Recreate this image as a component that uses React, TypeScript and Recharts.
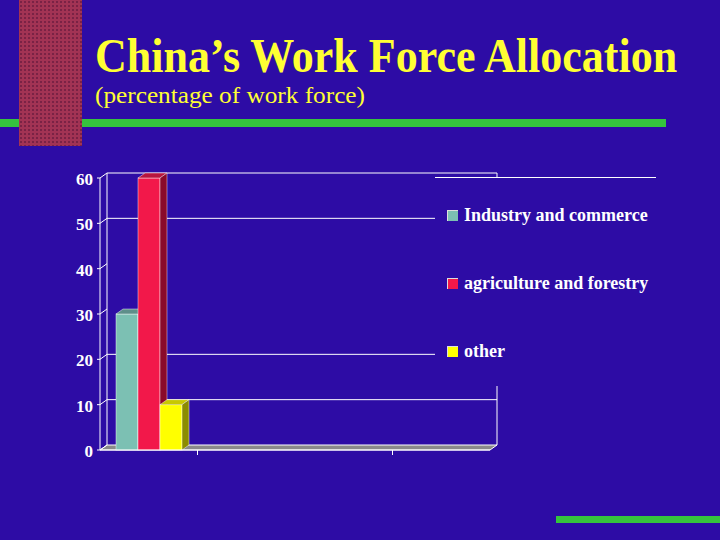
import { BarChart, Bar, XAxis, YAxis, CartesianGrid, Legend } from "recharts";

// one real category, three empty slots so the group sits at the left like the slide
const categories = ["China", "", "", ""];
const industryValues = [30, null, null, null];
const agricultureValues = [60, null, null, null];
const otherValues = [10, null, null, null];

const seriesNames = ["Industry and commerce", "agriculture and forestry", "other"];
const yTicks = [0, 10, 20, 30, 40, 50, 60];
const gridValues = [10, 20, 50, 60];

const BG = "#2D0CA5";
const FONT = '"Liberation Serif", "Times New Roman", serif';
const DX = 7;
const DY = 5;

const colors = [
  { front: "#7CC0B3", top: "#5E8F8A", side: "#4E7A74" },
  { front: "#F2184A", top: "#B8153E", side: "#8A0A2A" },
  { front: "#FFFF00", top: "#C8C800", side: "#8C8C00" },
];

const data = categories.map((c, i) => ({
  name: c,
  industry: industryValues[i],
  agriculture: agricultureValues[i],
  other: otherValues[i],
}));

function makeBar3D(idx: number) {
  return (props: any) => {
    const { x, y, width, height, value } = props;
    if (value == null || !height) return <g />;
    const c = colors[idx];
    const edge = "rgba(255,255,255,0.55)";
    return (
      <g>
        <rect x={x} y={y} width={width} height={height} fill={c.front} stroke={edge} strokeWidth={0.8} />
        <polygon
          points={`${x},${y} ${x + DX},${y - DY} ${x + width + DX},${y - DY} ${x + width},${y}`}
          fill={c.top}
          stroke={edge}
          strokeWidth={0.8}
        />
        <polygon
          points={`${x + width},${y} ${x + width + DX},${y - DY} ${x + width + DX},${y + height - DY} ${x + width},${y + height}`}
          fill={c.side}
          stroke={edge}
          strokeWidth={0.8}
        />
      </g>
    );
  };
}

const YTick = (props: any) => {
  const { x, y, payload } = props;
  return (
    <g>
      <line x1={x - 3} y1={y} x2={x} y2={y} stroke="#fff" />
      <line x1={x} y1={y} x2={x + DX} y2={y - DY} stroke="#fff" />
      <text x={x - 7} y={y + 7} textAnchor="end" fill="#fff" fontSize={17} fontWeight="bold" fontFamily={FONT}>
        {payload.value}
      </text>
    </g>
  );
};

const XTick = (props: any) => {
  const { x, y, payload, index } = props;
  if (index !== 0 && index !== 2) return <g />;
  const cx = x + (payload.offset || 48.75);
  return <line x1={cx} y1={y - 5} x2={cx} y2={y} stroke="#fff" />;
};

const gridLine = (p: any) => (
  <line key={p.key} x1={p.x1 + DX} y1={p.y1 - DY} x2={p.x2 + DX} y2={p.y2 - DY} stroke="#fff" strokeWidth={1} />
);

const LegendBox = (props: any) => {
  const { payload = [] } = props;
  return (
    <div style={{ width: 221, height: 208, background: BG, borderTop: "1px solid #fff", position: "relative" }}>
      {payload.map((entry: any, i: number) => (
        <div
          key={i}
          style={{
            position: "absolute",
            left: 12,
            top: 27 + i * 68,
            display: "flex",
            alignItems: "center",
            whiteSpace: "nowrap",
          }}
        >
          <div
            style={{
              width: 10,
              height: 10,
              background: entry.color,
              borderTop: "1px solid #ddd",
              borderLeft: "1px solid #ddd",
              marginRight: 6,
            }}
          />
          <span style={{ color: "#fff", fontFamily: FONT, fontWeight: "bold", fontSize: 18 }}>{entry.value}</span>
        </div>
      ))}
    </div>
  );
};

export default function App() {
  return (
    <div style={{ position: "fixed", left: 0, top: 0, width: 720, height: 540, background: BG, overflow: "hidden" }}>
      {/* header decoration */}
      <div style={{ position: "absolute", left: 0, top: 119, width: 666, height: 8, background: "#35C43D" }} />
      <div
        style={{
          position: "absolute",
          left: 19,
          top: 0,
          width: 63,
          height: 146,
          backgroundColor: "#A23354",
          backgroundImage: "radial-gradient(circle, #7A2245 0.9px, transparent 1.4px)",
          backgroundSize: "4px 4px",
        }}
      />
      <div style={{ position: "absolute", left: 556, top: 516, width: 164, height: 7, background: "#35C43D" }} />
      <svg width={720} height={115} style={{ position: "absolute", left: 0, top: 0 }}>
        <text
          transform="translate(95,72) scale(1,1.09)"
          x={0}
          y={0}
          fill="#FFFF33"
          fontFamily={FONT}
          fontWeight="bold"
          fontSize={44}
        >
          China’s Work Force Allocation
        </text>
        <text x={95} y={103} fill="#FFFF33" fontFamily={FONT} fontSize={24} textLength={270} lengthAdjust="spacingAndGlyphs">
          (percentage of work force)
        </text>
      </svg>

      {/* 3D walls and floor behind the bars */}
      <svg width={720} height={540} style={{ position: "absolute", left: 0, top: 0 }}>
        <polygon points="100,450 107,445 497,445 490,450" fill="#8A8A8A" stroke="#fff" strokeWidth={1} />
        <line x1={107} y1={173} x2={107} y2={445} stroke="#fff" />
        <line x1={497} y1={173} x2={497} y2={445} stroke="#fff" />
      </svg>

      <div style={{ position: "absolute", left: 0, top: 0 }}>
        <BarChart
          width={720}
          height={540}
          data={data}
          margin={{ top: 178, right: 230, bottom: 60, left: 40 }}
          barGap={0}
          barSize={22}
        >
          <CartesianGrid vertical={false} horizontal={gridLine} horizontalValues={gridValues} />
          <XAxis
            dataKey="name"
            height={30}
            axisLine={{ stroke: "#fff" }}
            tickLine={false}
            tickSize={5}
            tickMargin={0}
            tick={<XTick />}
            interval={0}
          />
          <YAxis
            width={60}
            domain={[0, 60]}
            ticks={yTicks}
            axisLine={{ stroke: "#fff" }}
            tickLine={false}
            tickSize={0}
            tickMargin={0}
            tick={<YTick />}
            interval={0}
          />
          <Legend
            layout="vertical"
            align="center"
            verticalAlign="middle"
            content={<LegendBox />}
            wrapperStyle={{ left: 435, top: 177, width: 221, height: 208 }}
          />
          <Bar dataKey="industry" name={seriesNames[0]} fill={colors[0].front} shape={makeBar3D(0)} isAnimationActive={false} />
          <Bar dataKey="agriculture" name={seriesNames[1]} fill={colors[1].front} shape={makeBar3D(1)} isAnimationActive={false} />
          <Bar dataKey="other" name={seriesNames[2]} fill={colors[2].front} shape={makeBar3D(2)} isAnimationActive={false} />
        </BarChart>
      </div>
    </div>
  );
}
